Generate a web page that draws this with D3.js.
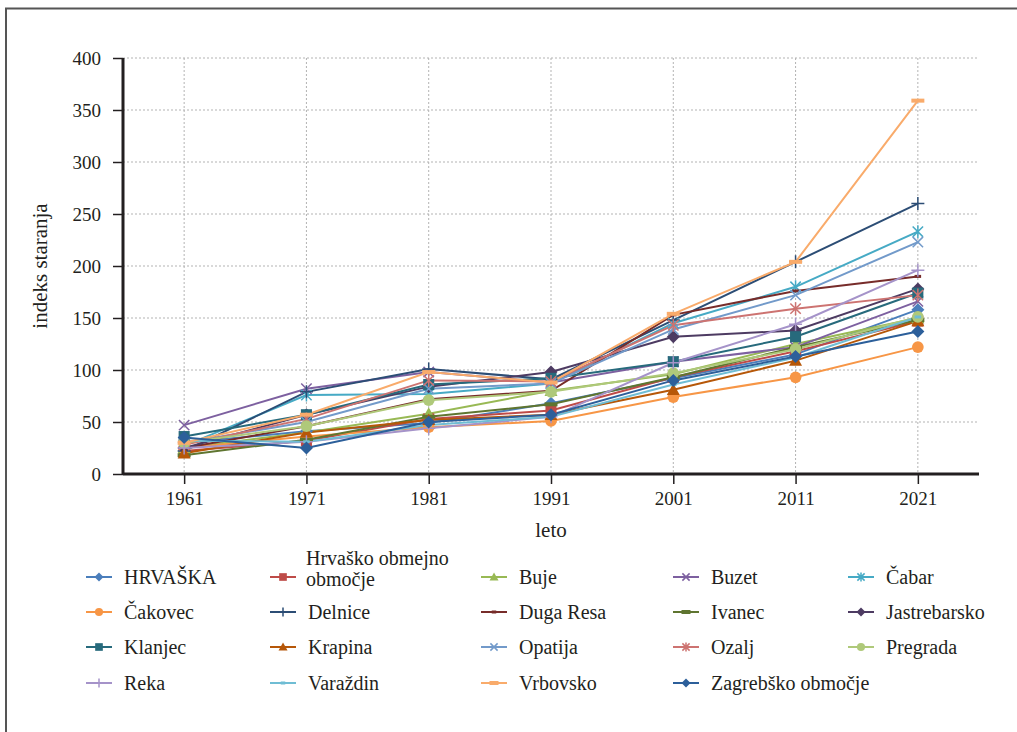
<!DOCTYPE html>
<html>
<head>
<meta charset="utf-8">
<script src="https://cdn.jsdelivr.net/npm/d3@7"></script>
<style>
  body { margin: 0; background: #fff; }
  svg text { font-family: 'Liberation Serif', 'Times New Roman', serif; fill: #231f20; }
</style>
</head>
<body>
<svg id="vis" width="1017" height="732"></svg>
<script>
// data
const years = ['1961', '1971', '1981', '1991', '2001', '2011', '2021'];
const yTicks = [0, 50, 100, 150, 200, 250, 300, 350, 400];

const names = ['HRVAŠKA', 'Hrvaško obmejno območje', 'Buje', 'Buzet', 'Čabar',
  'Čakovec', 'Delnice', 'Duga Resa', 'Ivanec', 'Jastrebarsko',
  'Klanjec', 'Krapina', 'Opatija', 'Ozalj', 'Pregrada',
  'Reka', 'Varaždin', 'Vrbovsko', 'Zagrebško območje'];

const hrvaska = [30, 41, 49, 68, 92, 115, 158];
const obmejno = [22, 32, 53, 61, 93, 118, 147];
const buje = [25, 40, 58, 80, 96, 125, 150];
const buzet = [47, 82, 98, 88, 108, 122, 166];
const cabar = [27, 76, 77, 87, 145, 180, 233];
const cakovec = [25, 36, 45, 51, 74, 93, 122];
const delnice = [22, 79, 101, 91, 148, 204, 260];
const dugaResa = [25, 46, 72, 80, 153, 176, 190];
const ivanec = [18, 33, 55, 67, 93, 122, 148];
const jastrebarsko = [25, 57, 84, 98, 132, 138, 178];
const klanjec = [36, 57, 86, 92, 108, 132, 174];
const krapina = [20, 40, 52, 57, 81, 109, 147];
const opatija = [30, 50, 82, 87, 139, 172, 223];
const ozalj = [28, 53, 90, 89, 143, 159, 172];
const pregrada = [30, 46, 71, 79, 97, 120, 151];
const reka = [25, 31, 44, 55, 107, 144, 196];
const varazdin = [32, 31, 47, 55, 86, 112, 151];
const vrbovsko = [30, 57, 98, 88, 154, 204, 359];
const zagrebsko = [35, 25, 50, 57, 90, 113, 137];

const values = [hrvaska, obmejno, buje, buzet, cabar, cakovec, delnice, dugaResa,
  ivanec, jastrebarsko, klanjec, krapina, opatija, ozalj, pregrada, reka,
  varazdin, vrbovsko, zagrebsko];

const colors = ['#4a7ebb', '#be4b48', '#98b954', '#7d60a0', '#46aac5', '#f79646',
  '#2c4d75', '#772c2a', '#5f7530', '#4d3b62', '#276a7c', '#b65708',
  '#729aca', '#cd7371', '#afc97a', '#a593c9', '#6fbdd4', '#f9ab6b', '#2c5f9a'];
const markers = ['diamond', 'square', 'triangle', 'x', 'star', 'circle', 'plus',
  'dash', 'bar', 'diamond', 'square', 'triangle', 'x', 'star', 'circle', 'plus',
  'dash', 'bar', 'diamond'];

const series = names.map((n, i) => ({name: n, values: values[i], color: colors[i], marker: markers[i]}));

const svg = d3.select('#vis');
const margin = {left: 123, right: 38, top: 58, bottom: 258};
const W = 1017, H = 732;

// frame
svg.append('path')
  .attr('d', `M6,${H} V8.5 H${W}`)
  .attr('fill', 'none')
  .attr('stroke', '#555')
  .attr('stroke-width', 2);

const x = d3.scalePoint().domain(years).range([margin.left, W - margin.right]).padding(0.5);
const y = d3.scaleLinear().domain([0, 400]).range([H - margin.bottom, margin.top]);

// grid
const grid = svg.append('g').attr('stroke', '#b3b3b3').attr('stroke-dasharray', '2,2').attr('stroke-width', 1);
grid.selectAll('.hg').data(yTicks.slice(1)).enter().append('line')
  .attr('x1', margin.left).attr('x2', W - margin.right)
  .attr('y1', d => y(d)).attr('y2', d => y(d));
grid.selectAll('.vg').data(years).enter().append('line')
  .attr('x1', d => x(d)).attr('x2', d => x(d))
  .attr('y1', y(400)).attr('y2', y(0));

// axes
const yAxis = svg.append('g')
  .attr('transform', `translate(${margin.left},0)`)
  .call(d3.axisLeft(y).tickValues(yTicks).tickSize(10).tickPadding(12));
const xAxis = svg.append('g')
  .attr('transform', `translate(0,${y(0)})`)
  .call(d3.axisBottom(x).tickSize(10).tickPadding(8));
[yAxis, xAxis].forEach(a => {
  a.attr('font-family', null).attr('font-size', null);
  a.select('.domain').attr('stroke', '#231f20').attr('stroke-width', 3);
  a.selectAll('.tick line').attr('stroke', '#231f20').attr('stroke-width', 1.5);
  a.selectAll('text').style('font-size', '19px');
});
xAxis.select('.domain').attr('d', `M${margin.left},0H${W - margin.right}`);
yAxis.select('.domain').attr('d', `M0,${y(400)}V${y(0)}`);

svg.append('text')
  .attr('transform', `translate(47,${(y(0) + y(400)) / 2}) rotate(-90)`)
  .attr('text-anchor', 'middle')
  .style('font-size', '21px')
  .text('indeks staranja');
svg.append('text')
  .attr('x', (margin.left + W - margin.right) / 2).attr('y', 537)
  .attr('text-anchor', 'middle')
  .style('font-size', '21px')
  .text('leto');

function drawMarker(g, type, color, s) {
  if (type === 'diamond') {
    g.append('path').attr('d', `M0,${-s}L${s},0L0,${s}L${-s},0Z`).attr('fill', color);
  } else if (type === 'square') {
    g.append('rect').attr('x', -s * 0.85).attr('y', -s * 0.85).attr('width', s * 1.7).attr('height', s * 1.7).attr('fill', color);
  } else if (type === 'triangle') {
    g.append('path').attr('d', `M0,${-s}L${s},${s * 0.8}L${-s},${s * 0.8}Z`).attr('fill', color);
  } else if (type === 'circle') {
    g.append('circle').attr('r', s * 0.9).attr('fill', color);
  } else if (type === 'x') {
    g.append('path').attr('d', `M${-s * 0.8},${-s * 0.8}L${s * 0.8},${s * 0.8}M${-s * 0.8},${s * 0.8}L${s * 0.8},${-s * 0.8}`)
      .attr('stroke', color).attr('stroke-width', 1.5);
  } else if (type === 'star') {
    g.append('path').attr('d', `M${-s * 0.8},${-s * 0.8}L${s * 0.8},${s * 0.8}M${-s * 0.8},${s * 0.8}L${s * 0.8},${-s * 0.8}M0,${-s}V${s}`)
      .attr('stroke', color).attr('stroke-width', 1.5);
  } else if (type === 'plus') {
    g.append('path').attr('d', `M${-s},0H${s}M0,${-s}V${s}`).attr('stroke', color).attr('stroke-width', 1.5);
  } else if (type === 'dash') {
    g.append('rect').attr('x', -s * 0.5).attr('y', -1.5).attr('width', s).attr('height', 3).attr('fill', color);
  } else if (type === 'bar') {
    g.append('rect').attr('x', -s).attr('y', -2).attr('width', s * 2).attr('height', 4).attr('fill', color);
  }
}

const line = d3.line().x((d, i) => x(years[i])).y(d => y(d));
const plot = svg.append('g');
series.forEach(s => {
  plot.append('path').datum(s.values)
    .attr('d', line)
    .attr('fill', 'none')
    .attr('stroke', s.color)
    .attr('stroke-width', 2);
});
series.forEach(s => {
  s.values.forEach((v, i) => {
    const g = plot.append('g').attr('transform', `translate(${x(years[i])},${y(v)})`);
    drawMarker(g, s.marker, s.color, 6.5);
  });
});

// legend
const colX = [86, 270, 481, 673, 848];
const rowY = [577, 612, 647, 683];
const legend = svg.append('g');
series.forEach((s, i) => {
  const cx = colX[i % 5], cy = rowY[Math.floor(i / 5)];
  const g = legend.append('g').attr('transform', `translate(${cx},${cy})`);
  g.append('line').attr('x1', 0).attr('x2', 26).attr('stroke', s.color).attr('stroke-width', 2);
  const m = g.append('g').attr('transform', 'translate(13,0)');
  drawMarker(m, s.marker, s.color, 4.5);
  const t = g.append('text').attr('x', 38).style('font-size', '20px');
  if (s.name === 'Hrvaško obmejno območje') {
    t.append('tspan').attr('x', 36).attr('y', -12).text('Hrvaško obmejno');
    t.append('tspan').attr('x', 36).attr('y', 9).text('območje');
  } else {
    t.attr('y', 7).text(s.name);
  }
});
</script>
</body>
</html>
